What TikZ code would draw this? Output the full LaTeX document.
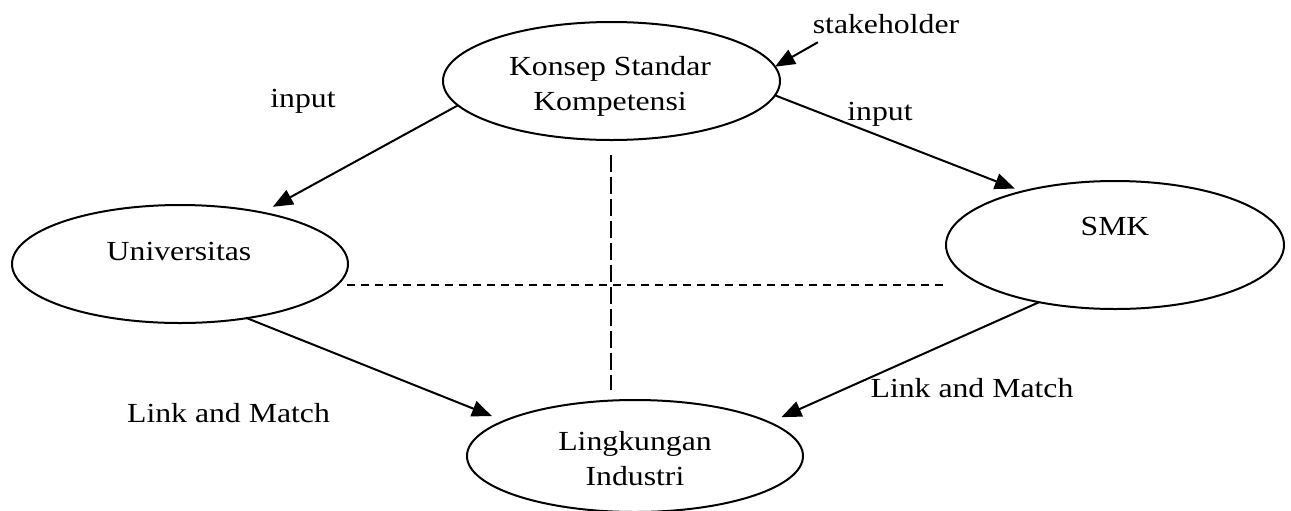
\documentclass[tikz,border=0pt]{standalone}
\usepackage{fontspec}
\usepackage{graphicx}
\setmainfont{Liberation Serif}
\usetikzlibrary{arrows.meta,shapes.geometric,calc}
\newcommand{\wtxt}[1]{\scalebox{1.15}[1]{#1}}
\begin{document}
\begin{tikzpicture}[x=0.5pt,y=-0.5pt,
  ell/.style={draw,ellipse,line width=1pt,inner sep=0pt,outer sep=0pt},
  lbl/.style={anchor=base,inner sep=0pt,outer sep=0pt,font=\fontsize{13.8}{17.5}\selectfont},
  conn/.style={line width=1pt,-{Triangle[length=10pt,width=8pt]}},
  dashv/.style={line width=1pt,dash pattern=on 8.5pt off 2.5pt},
  dashh/.style={line width=1pt,dash pattern=on 4pt off 3pt}]
\useasboundingbox (0,0) rectangle (1291,510);
% ellipses
\node[ell,minimum width=168.5pt,minimum height=59pt] (konsep) at (611.5,81) {};
\node[ell,minimum width=168pt,minimum height=59pt] (univ) at (180,264) {};
\node[ell,minimum width=169pt,minimum height=64pt] (smk) at (1115,245) {};
\node[ell,minimum width=168pt,minimum height=56pt] (lingk) at (635,456) {};
% texts
\node[lbl] (konseptxt) at (610,75) {\wtxt{\begin{tabular}[t]{@{}c@{}}Konsep Standar\\Kompetensi\end{tabular}}};
\node[lbl] (univtxt) at (179,260) {\wtxt{Universitas}};
\node[lbl] (smktxt) at (1115,235) {\wtxt{SMK}};
\node[lbl] (lingktxt) at (635,450) {\wtxt{\begin{tabular}[t]{@{}c@{}}Lingkungan\\Industri\end{tabular}}};
\node[lbl] (stake) at (886,33) {\wtxt{stakeholder}};
\node[lbl] (inL) at (303,107) {\wtxt{input}};
\node[lbl] (inR) at (880,120) {\wtxt{input}};
\node[lbl] (lmL) at (228.5,422) {\wtxt{Link and Match}};
\node[lbl] (lmR) at (972,397) {\wtxt{Link and Match}};
% connectors
\draw[conn,shorten >=6pt] (konsep.189.5) -- (univ.32.2);
\draw[conn,shorten >=4pt] (konsep.355.9) -- (smk.150.8);
\draw[conn,shorten >=6.5pt] (univ.321.6) -- (lingk.165.3);
\draw[conn,shorten >=6.5pt] (smk.217.4) -- (lingk.14.7);
\draw[conn] ([shift={(5,9)}]stake.south west) -- (konsep.5.3);
% dashed cross
\coordinate (vtop) at (611,155);
\coordinate (vbot) at (611,390);
\coordinate (hl) at (347,285);
\coordinate (hr) at (943,285);
\draw[dashv] (vtop) -- (vbot);
\draw[dashh] (hl) -- (hr);
\end{tikzpicture}
\end{document}
